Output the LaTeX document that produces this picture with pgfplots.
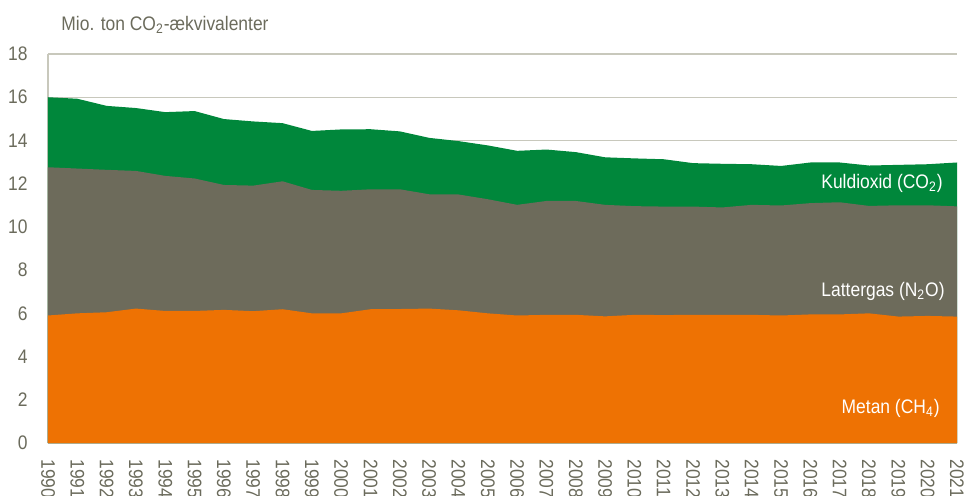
\documentclass[border=0pt]{standalone}
\usepackage{fontspec}
\setmainfont{Liberation Sans}[FakeStretch=0.89]
\usepackage{pgfplots}
\pgfplotsset{compat=1.18}
\definecolor{cogreen}{HTML}{00873B}
\definecolor{nogray}{HTML}{6D6B5B}
\definecolor{chorange}{HTML}{EE7203}
\definecolor{txtgray}{HTML}{6B6B5C}
\definecolor{gridc}{HTML}{C8C8BC}
\begin{document}
\begin{tikzpicture}
\begin{axis}[
  at={(0,0)}, anchor=south west,
  scale only axis, width=454.5pt, height=194.5pt,
  xmin=1990, xmax=2021, ymin=0, ymax=18,
  xtick={1990,...,2021}, ytick={0,2,...,18},
  major tick length=0pt,
  axis lines*=left,
  axis line style={draw=gridc, line width=0.7pt},
  ymajorgrids, grid style={draw=gridc, line width=0.7pt},
  tick style={draw=none},
  every tick label/.append style={font=\fontsize{9.8pt}{11pt}\selectfont, text=txtgray, inner sep=0pt},
  yticklabel style={anchor=east},
  yticklabel shift=10pt,
  xticklabel style={rotate=-90, anchor=west},
  xticklabel shift=8pt,
  /pgf/number format/assume math mode=true,
  xticklabel={\pgfmathprintnumber[1000 sep={}]{\tick}},
  clip=false,
]
\addplot[draw=none, fill=cogreen] table {
x y
1990 16.00
1991 15.93
1992 15.60
1993 15.50
1994 15.31
1995 15.36
1996 14.99
1997 14.88
1998 14.80
1999 14.44
2000 14.51
2001 14.52
2002 14.42
2003 14.12
2004 13.97
2005 13.77
2006 13.52
2007 13.58
2008 13.46
2009 13.22
2010 13.17
2011 13.13
2012 12.95
2013 12.92
2014 12.90
2015 12.82
2016 12.98
2017 12.98
2018 12.84
2019 12.87
2020 12.90
2021 12.98
} \closedcycle;
\addplot[draw=none, fill=nogray] table {
x y
1990 12.76
1991 12.70
1992 12.64
1993 12.59
1994 12.36
1995 12.24
1996 11.94
1997 11.91
1998 12.11
1999 11.71
2000 11.67
2001 11.74
2002 11.74
2003 11.51
2004 11.50
2005 11.28
2006 11.02
2007 11.20
2008 11.20
2009 11.02
2010 10.96
2011 10.94
2012 10.94
2013 10.90
2014 11.02
2015 10.99
2016 11.10
2017 11.14
2018 10.97
2019 11.00
2020 11.00
2021 10.95
} \closedcycle;
\addplot[draw=none, fill=chorange] table {
x y
1990 5.90
1991 6.00
1992 6.05
1993 6.22
1994 6.11
1995 6.11
1996 6.16
1997 6.10
1998 6.19
1999 6.00
2000 6.00
2001 6.19
2002 6.20
2003 6.22
2004 6.14
2005 6.00
2006 5.90
2007 5.93
2008 5.93
2009 5.86
2010 5.93
2011 5.92
2012 5.93
2013 5.93
2014 5.93
2015 5.90
2016 5.95
2017 5.95
2018 6.00
2019 5.85
2020 5.88
2021 5.85
} \closedcycle;
\end{axis}
\begin{scope}[every node/.style={inner sep=0pt, font=\fontsize{9.8pt}{11pt}\selectfont}]
\node[anchor=base west, text=txtgray] at (6.5pt,206.5pt) {Mio. ton CO\textsubscript{2}-ækvivalenter};
\node[anchor=base east, text=white] at (447.5pt,127.3pt) {Kuldioxid (CO\textsubscript{2})};
\node[anchor=base east, text=white] at (448.5pt,73.2pt) {Lattergas (N\textsubscript{2}O)};
\node[anchor=base east, text=white] at (446pt,14.9pt) {Metan (CH\textsubscript{4})};
\end{scope}
\pgfresetboundingbox
\path[use as bounding box] (-24pt,-26pt) rectangle (460.5pt,221.5pt);
\end{tikzpicture}
\end{document}
